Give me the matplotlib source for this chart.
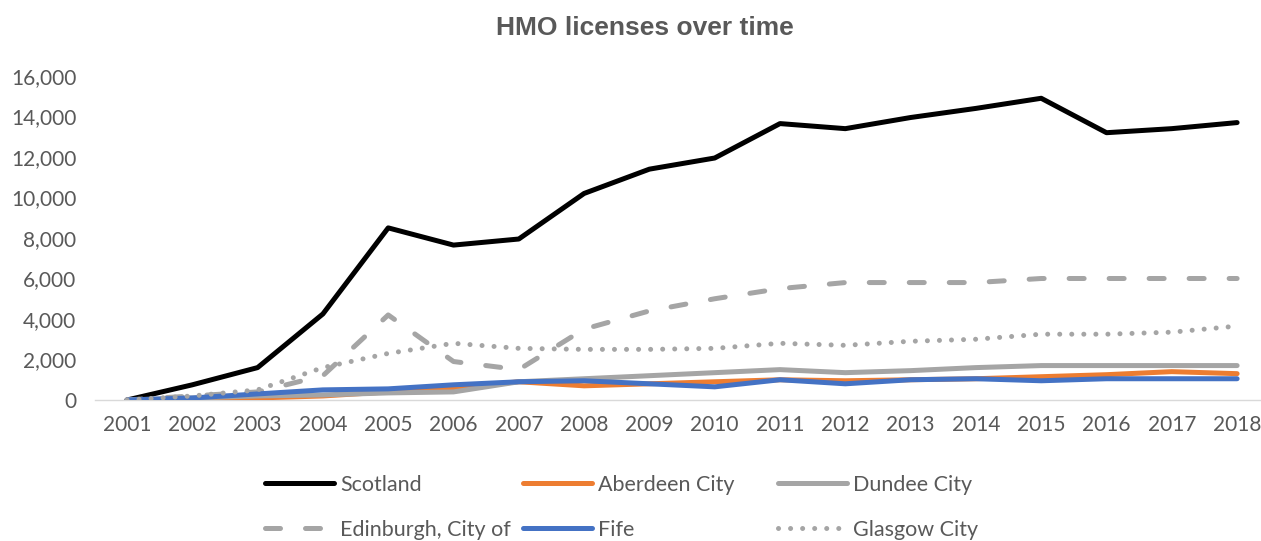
import matplotlib
matplotlib.use("Agg")
import matplotlib.pyplot as plt
from matplotlib.ticker import FuncFormatter

years = list(range(2001, 2019))
scotland = [0, 750, 1600, 4250, 8500, 7650, 7950, 10200, 11400, 11950, 13650, 13400, 13950, 14400, 14900, 13200, 13400, 13700]
aberdeen = [0, 0, 100, 200, 400, 600, 900, 700, 800, 900, 1000, 950, 1000, 1050, 1150, 1250, 1400, 1300]
dundee = [0, 100, 200, 250, 350, 400, 900, 1050, 1200, 1350, 1500, 1350, 1450, 1600, 1700, 1700, 1700, 1700]
edinburgh = [0, 200, 400, 1200, 4200, 1900, 1500, 3500, 4400, 5000, 5500, 5800, 5800, 5800, 6000, 6000, 6000, 6000]
fife = [0, 100, 300, 500, 550, 750, 900, 950, 800, 650, 1000, 800, 1000, 1050, 950, 1050, 1050, 1050]
glasgow = [0, 200, 500, 1600, 2300, 2800, 2550, 2500, 2500, 2550, 2800, 2700, 2900, 3000, 3250, 3250, 3350, 3650]

plt.rcParams['font.family'] = ['Lato', 'DejaVu Sans']

W, H = 1261, 541
fig = plt.figure(figsize=(W / 100, H / 100), dpi=100)
left_px, right_px, top_px, bot_px = 94.5, 1261, 76, 400
ax = fig.add_axes([left_px / W, 1 - bot_px / H, (right_px - left_px) / W, (bot_px - top_px) / H])

lw = 3.6
common = dict(lw=lw, solid_capstyle='round', solid_joinstyle='round', dash_capstyle='round')
l_sc, = ax.plot(years, scotland, color='black', label='Scotland', zorder=2, **common)
l_ab, = ax.plot(years, aberdeen, color='#ed7d31', label='Aberdeen City', zorder=3, **common)
l_du, = ax.plot(years, dundee, color='#a5a5a5', label='Dundee City', zorder=4, **common)
l_ed, = ax.plot(years, edinburgh, color='#a5a5a5', label='Edinburgh, City of',
                linestyle=(0, (3, 5)), zorder=5, **common)
l_fi, = ax.plot(years, fife, color='#4472c4', label='Fife', zorder=6, **common)
l_gl, = ax.plot(years, glasgow, color='#a5a5a5', label='Glasgow City',
                linestyle=(0, (0.01, 2.4)), zorder=7, **common)

xstep = 65.3
ax.set_xlim(2001 - (127 - left_px) / xstep, 2001 + (right_px - 127) / xstep)
ax.set_ylim(0, 16000)
ax.set_xticks(years)
ax.set_yticks(range(0, 16001, 2000))
ax.yaxis.set_major_formatter(FuncFormatter(lambda v, p: f"{int(v):,}"))
for s in ['top', 'right', 'left']:
    ax.spines[s].set_visible(False)
ax.spines['bottom'].set_color('#d9d9d9')
ax.spines['bottom'].set_linewidth(1)
ax.spines['bottom'].set_zorder(1)
ax.tick_params(axis='both', length=0, labelsize=15, colors='#595959')
ax.tick_params(axis='x', pad=11)
ax.tick_params(axis='y', pad=13)

fig.text(645 / W, 1 - 28 / H, 'HMO licenses over time', ha='center', va='center',
         fontsize=19, fontweight='bold', color='#595959', family=['Liberation Sans', 'DejaVu Sans'])

# legend entries placed in a 3x2 grid
entries = [(l_sc, 265, 485), (l_ab, 523, 485), (l_du, 778, 485),
           (l_ed, 265, 530), (l_fi, 523, 530), (l_gl, 778, 530)]
for h, xp, yp in entries:
    lg = fig.legend([h], [h.get_label()], loc='center left',
                    bbox_to_anchor=(xp / W, 1 - yp / H), frameon=False, fontsize=15.5,
                    handlelength=3.2, handletextpad=0.3, borderpad=0, borderaxespad=0,
                    labelcolor='#595959')

fig.savefig('out.png', dpi=100)
